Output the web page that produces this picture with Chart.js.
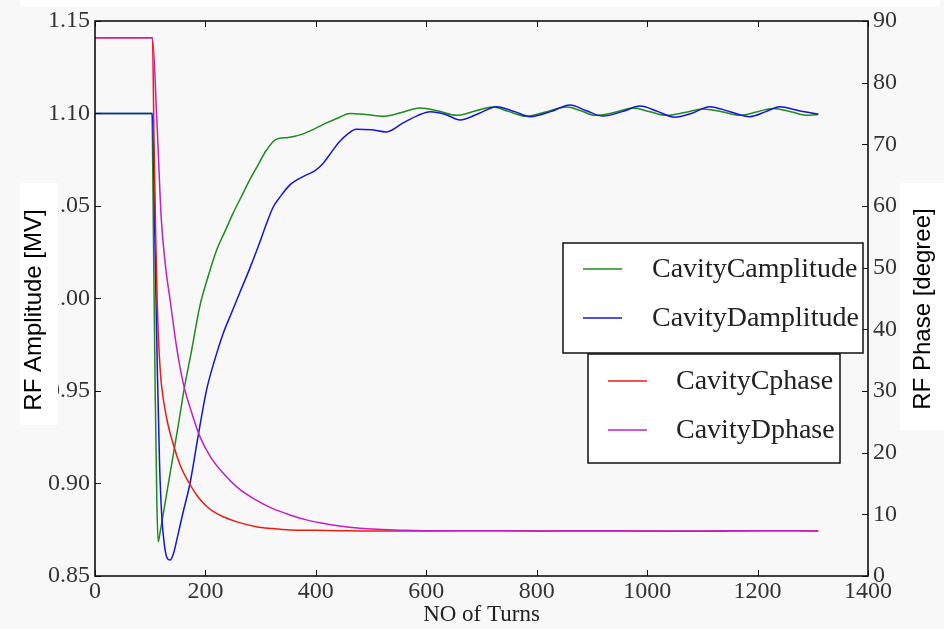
<!DOCTYPE html>
<html>
<head>
<meta charset="utf-8">
<title>Cavity RF amplitude and phase</title>
<script src="https://cdn.jsdelivr.net/npm/chart.js@4.4.1/dist/chart.umd.min.js"></script>
<style>
  html, body { margin: 0; padding: 0; background: #f8f8f8; }
  #wrap { position: relative; width: 944px; height: 629px; }
</style>
</head>
<body>
<div id="wrap"><canvas id="rf"></canvas></div>
<script>
// cavity C amplitude [MV] vs turn
const cAmpTurns = [0, 60, 103, 106, 109, 112, 114.5, 117, 125, 138,
  150, 162, 175, 190, 205, 220, 235, 250, 265, 280,
  295, 310, 328, 350, 377, 413, 443, 462, 490, 522,
  555, 588, 620, 655, 690, 721, 750, 781, 818, 854,
  880, 905, 940, 974, 1005, 1035, 1068, 1100, 1135, 1168,
  1200, 1228, 1260, 1289, 1310];
const cAmpValues = [1.100, 1.100, 1.100, 1.030, 0.950, 0.890, 0.8685, 0.872, 0.886, 0.909,
  0.930, 0.952, 0.972, 0.996, 1.012, 1.026, 1.036, 1.046, 1.055, 1.064,
  1.072, 1.080, 1.086, 1.087, 1.089, 1.094, 1.098, 1.100, 1.0995, 1.0985,
  1.1005, 1.103, 1.1015, 1.099, 1.1015, 1.1035, 1.101, 1.0985, 1.101, 1.1035,
  1.1015, 1.099, 1.1005, 1.103, 1.101, 1.099, 1.1005, 1.1025, 1.101, 1.099,
  1.101, 1.1027, 1.101, 1.099, 1.0995];

// cavity D amplitude [MV] vs turn
const dAmpTurns = [0, 60, 104, 108, 113, 117, 121, 126, 131, 136,
  142, 150, 160, 172, 187, 202, 217, 232, 247, 262,
  280, 298, 310, 323, 338, 353, 368, 383, 398, 413,
  428, 443, 458, 473, 500, 528, 558, 585, 607, 635,
  661, 695, 727, 760, 788, 825, 860, 890, 920, 955,
  987, 1020, 1050, 1080, 1113, 1150, 1186, 1215, 1240, 1275,
  1310];
const dAmpValues = [1.100, 1.100, 1.100, 1.040, 0.960, 0.910, 0.882, 0.866, 0.8595, 0.8586,
  0.862, 0.872, 0.885, 0.900, 0.926, 0.9505, 0.967, 0.981, 0.992, 1.003,
  1.016, 1.030, 1.040, 1.0496, 1.056, 1.0614, 1.0645, 1.0668, 1.069, 1.073,
  1.079, 1.0848, 1.089, 1.0915, 1.0912, 1.090, 1.0949, 1.099, 1.101, 1.0995,
  1.0965, 1.100, 1.1037, 1.101, 1.0983, 1.101, 1.1046, 1.1015, 1.0986, 1.101,
  1.104, 1.101, 1.098, 1.100, 1.1037, 1.101, 1.0983, 1.101, 1.1037, 1.1015,
  1.0997];

// cavity C phase [degree] vs turn
const cPhaseTurns = [0, 60, 104, 107, 110, 112.5, 114.5, 117, 120, 130,
  141, 155, 171, 186, 202, 217, 232, 260, 292, 320,
  353, 400, 443, 500, 600, 700, 800, 900, 1000, 1100,
  1200, 1310];
const cPhaseValues = [87.3, 87.3, 87.3, 70, 55, 45, 39.4, 35, 31.3, 25.5,
  21.6, 17.8, 15.0, 12.9, 11.3, 10.3, 9.6, 8.7, 8.0, 7.7,
  7.46, 7.4, 7.35, 7.3, 7.3, 7.35, 7.3, 7.3, 7.3, 7.25,
  7.35, 7.3];

// cavity D phase [degree] vs turn
const dPhaseTurns = [0, 60, 104, 112, 120, 128, 136, 148, 160, 175,
  190, 210, 232, 260, 292, 320, 353, 383, 413, 443,
  480, 520, 560, 600, 700, 800, 900, 1000, 1100, 1200,
  1310];
const dPhaseValues = [87.3, 87.3, 87.3, 74, 58, 50, 44.8, 37, 31.2, 26.5,
  22.6, 19.2, 16.7, 14.2, 12.3, 11.0, 9.9, 9.1, 8.55, 8.1,
  7.75, 7.55, 7.4, 7.35, 7.35, 7.3, 7.35, 7.3, 7.3, 7.35,
  7.3];

const seriesNames = ['CavityCamplitude', 'CavityDamplitude', 'CavityCphase', 'CavityDphase'];
const seriesColors = ['#1f8a1f', '#1414dc', '#ee1a12', '#c020c0'];

const ampTicks = [0.85, 0.90, 0.95, 1.00, 1.05, 1.10, 1.15];
const phaseTicks = [0, 10, 20, 30, 40, 50, 60, 70, 80, 90];
const turnTicks = [0, 200, 400, 600, 800, 1000, 1200, 1400];

const serif = 'Liberation Serif, Times New Roman, serif';
const sans = 'Liberation Sans, Arial, sans-serif';

function zip(xs, ys) {
  return xs.map((x, i) => ({ x: x, y: ys[i] }));
}

function makeSet(i, xs, ys, axis, order) {
  return {
    label: seriesNames[i],
    data: zip(xs, ys),
    yAxisID: axis,
    borderColor: seriesColors[i],
    backgroundColor: seriesColors[i],
    borderWidth: 1.5,
    pointRadius: 0,
    cubicInterpolationMode: 'monotone',
    order: order
  };
}

// background, with the white patches behind the side titles
const backdrop = {
  id: 'backdrop',
  beforeDraw(chart) {
    const { ctx, width, height } = chart;
    ctx.save();
    ctx.fillStyle = '#f8f8f8';
    ctx.fillRect(0, 0, width, height);
    ctx.fillStyle = '#ffffff';
    ctx.fillRect(20, 0, 920, 7);
    ctx.restore();
  }
};

// black frame round the plot, ticks pointing inwards
const frameTicks = {
  id: 'frameTicks',
  afterDatasetsDraw(chart) {
    const { ctx, chartArea: a, scales } = chart;
    ctx.save();
    ctx.strokeStyle = '#111';
    ctx.lineWidth = 1;
    ctx.beginPath();
    scales.x.ticks.forEach(t => {
      const px = Math.round(scales.x.getPixelForValue(t.value)) + 0.5;
      ctx.moveTo(px, a.bottom); ctx.lineTo(px, a.bottom - 6);
      ctx.moveTo(px, a.top); ctx.lineTo(px, a.top + 6);
    });
    scales.y.ticks.forEach(t => {
      const py = Math.round(scales.y.getPixelForValue(t.value)) + 0.5;
      ctx.moveTo(a.left, py); ctx.lineTo(a.left + 6, py);
    });
    scales.y1.ticks.forEach(t => {
      const py = Math.round(scales.y1.getPixelForValue(t.value)) + 0.5;
      ctx.moveTo(a.right, py); ctx.lineTo(a.right - 6, py);
    });
    ctx.stroke();
    ctx.lineWidth = 1.6;
    ctx.strokeRect(a.left, a.top, a.width, a.height);
    ctx.restore();
  }
};

// two legend boxes: amplitudes, then phases
const legendBoxes = {
  id: 'legendBoxes',
  afterDraw(chart) {
    const { ctx } = chart;
    const groups = [
      { box: [563, 243, 300, 110], lineX: 583, textX: 652, rows: [0, 1], y0: 269 },
      { box: [588, 354, 252, 109], lineX: 608, textX: 676, rows: [2, 3], y0: 381 }
    ];
    ctx.save();
    groups.forEach(g => {
      ctx.fillStyle = '#ffffff';
      ctx.fillRect(g.box[0], g.box[1], g.box[2], g.box[3]);
      ctx.strokeStyle = '#111';
      ctx.lineWidth = 1.5;
      ctx.strokeRect(g.box[0], g.box[1], g.box[2], g.box[3]);
      g.rows.forEach((di, k) => {
        const ds = chart.data.datasets.find(d => d.label === seriesNames[di]);
        const y = g.y0 + k * 49;
        ctx.strokeStyle = ds.borderColor;
        ctx.lineWidth = 1.5;
        ctx.beginPath();
        ctx.moveTo(g.lineX, y);
        ctx.lineTo(g.lineX + 39, y);
        ctx.stroke();
        ctx.fillStyle = '#222';
        ctx.font = '28px ' + serif;
        ctx.textBaseline = 'middle';
        ctx.textAlign = 'left';
        ctx.fillText(ds.label, g.textX, y + 1);
      });
    });
    ctx.restore();
  }
};

// axis titles
const axisTitles = {
  id: 'axisTitles',
  afterDraw(chart) {
    const { ctx, chartArea: a } = chart;
    ctx.save();
    ctx.fillStyle = '#ffffff';
    ctx.fillRect(20, 183, 38, 242);
    ctx.fillRect(900, 183, 44, 247);

    ctx.fillStyle = '#000';
    ctx.font = '24px ' + sans;
    ctx.textAlign = 'center';
    ctx.textBaseline = 'middle';
    ctx.translate(34, 310);
    ctx.rotate(-Math.PI / 2);
    ctx.fillText('RF Amplitude [MV]', 0, 0);
    ctx.setTransform(1, 0, 0, 1, 0, 0);
    ctx.translate(923, 309);
    ctx.rotate(-Math.PI / 2);
    ctx.fillText('RF Phase [degree]', 0, 0);
    ctx.setTransform(1, 0, 0, 1, 0, 0);

    ctx.fillStyle = '#222';
    ctx.font = '23px ' + serif;
    ctx.textBaseline = 'alphabetic';
    ctx.fillText('NO of Turns', (a.left + a.right) / 2, 621);
    ctx.restore();
  }
};

const tickFont = { family: serif, size: 24 };

new Chart(document.getElementById('rf'), {
  type: 'line',
  data: {
    datasets: [
      makeSet(0, cAmpTurns, cAmpValues, 'y', 3),
      makeSet(1, dAmpTurns, dAmpValues, 'y', 2),
      makeSet(2, cPhaseTurns, cPhaseValues, 'y1', 1),
      makeSet(3, dPhaseTurns, dPhaseValues, 'y1', 0)
    ]
  },
  options: {
    responsive: true,
    maintainAspectRatio: false,
    animation: false,
    layout: { padding: { top: 21, left: 0, right: 0, bottom: 0 } },
    plugins: {
      legend: { display: false },
      tooltip: { enabled: false }
    },
    scales: {
      x: {
        type: 'linear',
        min: 0,
        max: 1400,
        afterBuildTicks: s => { s.ticks = turnTicks.map(v => ({ value: v })); },
        afterFit: s => { s.height = 53; },
        grid: { display: false, drawTicks: false },
        border: { display: false },
        ticks: { font: tickFont, color: '#333', padding: 1, maxRotation: 0, callback: v => String(v) }
      },
      y: {
        position: 'left',
        min: 0.85,
        max: 1.15,
        afterBuildTicks: s => { s.ticks = ampTicks.map(v => ({ value: v })); },
        afterFit: s => { s.width = 95; },
        grid: { display: false, drawTicks: false },
        border: { display: false },
        ticks: { font: tickFont, color: '#333', padding: 5, callback: v => v.toFixed(2) }
      },
      y1: {
        position: 'right',
        min: 0,
        max: 90,
        afterBuildTicks: s => { s.ticks = phaseTicks.map(v => ({ value: v })); },
        afterFit: s => { s.width = 76; },
        grid: { display: false, drawTicks: false },
        border: { display: false },
        ticks: { font: tickFont, color: '#333', padding: 5, callback: v => String(v) }
      }
    }
  },
  plugins: [backdrop, frameTicks, legendBoxes, axisTitles]
});
</script>
</body>
</html>
